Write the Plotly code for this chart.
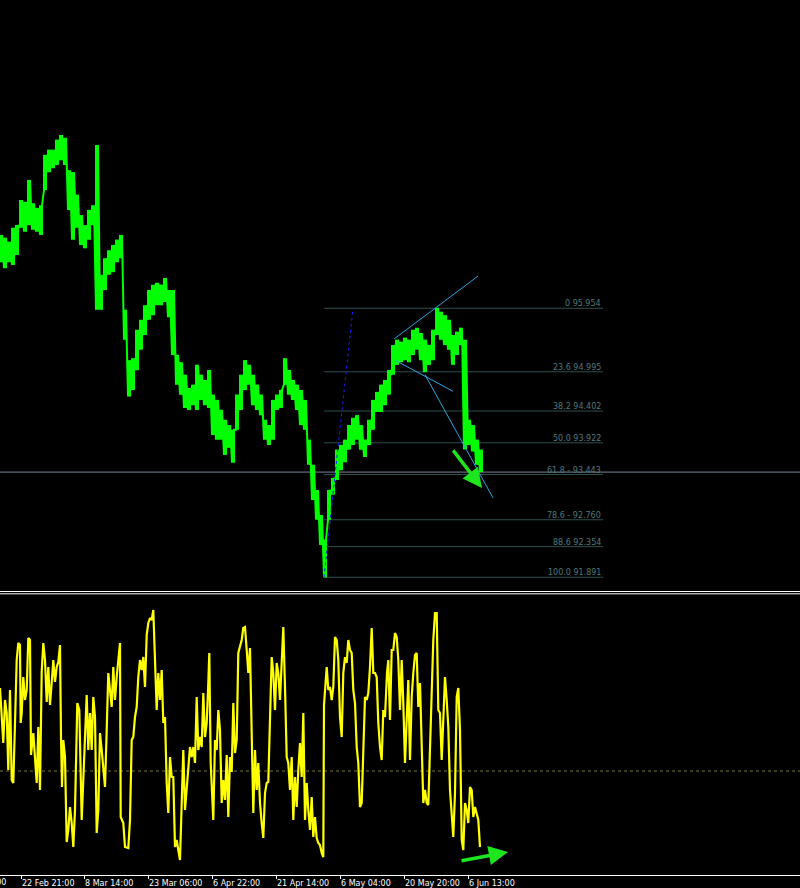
import plotly.graph_objects as go

# ---------------- data ----------------
bar_x = list(range(0, 481, 4))  # bar index (one step = one pixel column in the original)

price_high = [
    97.06, 97.02, 96.96, 97.17, 97.21, 97.59, 97.56, 97.89, 97.54, 97.47,
    97.51, 98.27, 98.35, 98.35, 98.50, 98.57, 98.53, 98.04, 98.01, 97.67,
    97.36, 97.21, 97.44, 97.51, 98.42, 96.46, 96.71, 96.83, 96.91, 96.99,
    97.06, 95.93, 95.17, 95.20, 95.63, 95.78, 96.00, 96.23, 96.31, 96.34,
    96.31, 96.41, 96.23, 96.23, 95.25, 95.14, 94.95, 94.75, 94.80, 95.10,
    94.95, 94.87, 95.02, 94.65, 94.57, 94.42, 94.27, 94.19, 94.12, 94.65,
    94.95, 95.17, 95.10, 94.95, 94.80, 94.65, 94.27, 94.19, 94.57, 94.65,
    94.72, 95.20, 95.02, 94.87, 94.80, 94.72, 94.57, 93.97, 93.59, 93.21,
    92.83, 92.46, 93.21, 93.39, 93.82, 93.89, 93.97, 94.19, 94.30, 94.34,
    94.19, 93.97, 94.27, 94.57, 94.69, 94.80, 94.87, 95.02, 95.40, 95.48,
    95.45, 95.51, 95.48, 95.63, 95.66, 95.58, 95.48, 95.40, 95.63, 95.96,
    95.90, 95.85, 95.78, 95.55, 95.60, 95.66, 95.48, 94.27, 94.19, 93.97,
    93.82,
]
price_low = [
    96.65, 96.56, 96.65, 96.61, 96.76, 97.17, 97.11, 97.21, 97.14, 97.11,
    97.06, 97.74, 98.01, 98.07, 98.12, 98.19, 98.12, 97.44, 96.99, 97.17,
    96.91, 96.86, 96.99, 97.21, 95.93, 95.93, 96.23, 96.46, 96.50, 96.65,
    96.71, 95.48, 94.62, 94.72, 95.02, 95.33, 95.55, 95.78, 95.85, 96.00,
    96.00, 96.05, 95.82, 95.25, 94.80, 94.65, 94.45, 94.42, 94.49, 94.42,
    94.57, 94.49, 94.45, 94.04, 93.97, 93.97, 93.74, 93.85, 93.62, 94.12,
    94.42, 94.72, 94.80, 94.49, 94.42, 94.34, 93.97, 93.89, 93.97, 94.42,
    94.45, 94.80, 94.65, 94.57, 94.42, 94.19, 94.12, 93.59, 93.06, 92.76,
    92.38, 91.89, 92.76, 93.14, 93.36, 93.51, 93.63, 93.82, 93.89, 93.97,
    93.82, 93.71, 93.89, 94.12, 94.39, 94.39, 94.49, 94.65, 94.95, 95.10,
    95.14, 95.17, 95.14, 95.25, 95.33, 95.17, 94.99, 95.10, 95.17, 95.55,
    95.48, 95.40, 95.33, 95.10, 95.25, 95.40, 93.82, 93.89, 93.79, 93.59,
    93.48,
]

osc_x = [
    0, 1.7, 3.3, 5, 6.7, 8.3, 10, 11.7, 13.3, 15, 16.7, 18.3, 20, 20.7, 21.7, 23.3,
    25, 26.7, 28.3, 30, 31, 33.3, 35, 36.7, 38.3, 40, 41.7, 43.3, 45, 46.7, 48.3, 50,
    51.7, 53.3, 55, 56.7, 58.3, 60, 61, 62, 63.3, 65, 66.7, 68.3, 70, 71.7, 73.3, 75,
    77.3, 79.3, 81.7, 83.3, 85, 86.7, 88.3, 90, 91.7, 93.3, 95, 96.7, 98.3, 100,
    101.7, 103.3, 105, 106.7, 108.3, 110, 111.7, 113.3, 115, 116.7, 118.3, 120, 120.7,
    123.3, 125, 128.3, 130, 131.7, 133.3, 135, 136.7, 138.3, 140, 141.7, 143.3, 145,
    146.7, 148.3, 150, 151.7, 153.3, 155, 156.7, 158.3, 160, 161.7, 163.3, 165, 166.7,
    168.3, 170, 171.7, 173.3, 175, 176.7, 178.3, 180, 181.7, 183.3, 185, 186.7, 188.3,
    190, 191.7, 193.3, 195, 196.7, 198.3, 200, 201.7, 203.3, 205, 206.7, 208.3, 209.3,
    210.7, 211.7, 213.3, 215, 216.7, 218.3, 220, 221.7, 223.3, 225, 226.7, 228.3, 230,
    231.7, 233.3, 235, 236.7, 238.3, 240, 241.7, 243.3, 245, 246.7, 248.3, 250, 251.7,
    253.3, 255, 256.7, 258.3, 260, 261.7, 263.3, 265, 266.7, 268.3, 270, 271.7, 273.3,
    275, 276.7, 278.3, 280, 281.7, 283.3, 285, 286.7, 288.3, 290, 291.7, 293.3, 295,
    296.7, 298.3, 300, 301.7, 303.3, 305, 306.7, 308.3, 310, 311.7, 313.3, 315, 316.7,
    318.3, 320, 321.7, 323.3, 324, 325, 326.7, 328.3, 330, 331.7, 333.3, 335, 336.7,
    338.3, 340, 341.7, 343.3, 345, 346.7, 348.3, 350, 351.7, 353.3, 355, 356.7, 358.3,
    360, 361.7, 363.3, 365, 366.7, 368.3, 370, 371.7, 373.3, 375, 376.7, 378.3, 380,
    381.7, 383.3, 385, 387, 388.3, 390, 391.7, 393.3, 395, 396.7, 398.3, 400, 401.7,
    403.3, 405, 406.7, 408.3, 410, 411.7, 413.3, 415, 416.7, 418.3, 420, 421.7, 423.3,
    425, 426.7, 428.3, 430, 431.7, 433.3, 435, 436.7, 438.3, 440, 441.7, 443.3, 445,
    446.7, 448.3, 450, 451.7, 453.3, 455, 456.7, 458.3, 460, 461.7, 463.3, 465, 466.7,
    468.3, 470, 471.7, 473.3, 475, 476.7, 478.3, 480,
]
osc_v = [
    83, 48, 28, 71, 58, 1, 81, -9, -12, 48, 111, 128, 126, 48, 58, 94,
    71, 81, 133, 131, 16, 38, 14, -12, 44, -19, 99, 128, 111, 69, 104, 66,
    88, 111, 89, 104, 109, 126, 34, -16, 31, 14, -71, -59, -36, -52, -76, -39,
    68, 61, -49, -6, 38, 76, 21, 58, 21, 74, 54, -62, -39, 38,
    21, -2, -16, 41, 98, 81, 64, 104, 71, 94, 114, 128, -46,
    -52, -76, -77, -49, 31, 34, 54, 64, 94, 111, 101, 114, 84,
    136, 148, 153, 151, 161, 109, 61, 98, 71, 101, 48, 54, -12,
    -42, 14, -6, -6, -76, -69, -79, -89, -32, 21, -39, -19, 4,
    24, 14, 24, 8, 74, 21, 34, 24, 78, 34, 48, 88, 118,
    8, -12, -49, 31, 21, 61, 41, -32, -9, -29, 16, -46, 14,
    -1, 68, 18, 31, 118, 126, 131, 143, 144, 121, 98, 123, 48,
    -42, 21, -19, 8, -32, -52, -67, -22, -12, -11, 61, 114, 98,
    61, 108, 98, 71, 118, 144, 84, 14, 8, -19, 14, -49, -6,
    -36, 1, 28, -6, 58, -49, -12, -39, -59, -26, -66, -46, -67,
    -72, -74, -82, -86, 66, 78, 104, 81, 84, 71, 84, 134, 131,
    111, 54, 34, 98, 114, 108, 131, 121, 118, 81, 68, 24, 8,
    -36, -32, 14, 74, 71, 78, 104, 143, 98, 98, 94, 48, 24,
    11, 61, 54, 98, 111, 51, 121, 121, 138, 134, 111, 61, 111,
    68, 8, 51, 91, 11, 74, 98, 116, 118, 64, 88, 34, -32,
    -19, -32, -34, 18, 61, 131, 158, 158, 61, 58, 11, 61, 94,
    71, 44, -19, -39, -66, -22, 74, 83, 41, -69, -79, -32, -39,
    -52, -16, -19, -46, -36, -42, -49, -76,
]
osc_level = 0

tick_x = [21, 84, 148, 212, 276, 340, 404, 468]
tick_text = ["22 Feb 21:00", "8 Mar 14:00", "23 Mar 06:00", "6 Apr 22:00",
             "21 Apr 14:00", "6 May 04:00", "20 May 20:00", "6 Jun 13:00"]
cut_tick_x = -43
cut_tick_text = "8 Feb 05:00"

fib_ratio = ["0", "23.6", "38.2", "50.0", "61.8 -", "78.6 -", "88.6", "100.0"]
fib_price = [95.954, 94.995, 94.402, 93.922, 93.443, 92.760, 92.354, 91.891]
fib_x_start, fib_x_end = 324, 603
fib_anchor_x = [324, 353]
fib_anchor_y = [91.891, 95.954]

bid_price = 93.48

trend_x0 = [394, 395, 425]
trend_y0 = [95.49, 95.17, 94.95]
trend_x1 = [478, 453, 493]
trend_y1 = [96.44, 94.70, 93.09]

arrow_price_tail = (452, 93.83)
arrow_price_head = (482, 93.24)
arrow_osc_tail = (460, -90)
arrow_osc_head = (508, -81)

# ---------------- figure ----------------
W, H = 800, 888
main_top_px, main_bot_px = 0, 590
osc_top_px, osc_bot_px = 595, 875

# each bar drawn as two vertical high-low strokes joined into one path
zx, zy = [], []
for x, hi, lo in zip(bar_x, price_high, price_low):
    zx += [x, x, x + 2, x + 2]
    zy += [lo, hi, lo, hi]

fig = go.Figure()
fig.add_trace(go.Scatter(x=zx, y=zy, mode="lines", line=dict(color="#00ff00", width=2),
                         xaxis="x", yaxis="y", hoverinfo="skip", showlegend=False))
fig.add_trace(go.Scatter(x=osc_x, y=osc_v, mode="lines", line=dict(color="#ffff00", width=2.2),
                         xaxis="x", yaxis="y2", hoverinfo="skip", showlegend=False))

shapes = []
for p in fib_price:
    shapes.append(dict(type="line", xref="x", yref="y", x0=fib_x_start, x1=fib_x_end, y0=p, y1=p,
                       line=dict(color="#2f4f4f", width=1), layer="below"))
shapes.append(dict(type="line", xref="paper", yref="y", x0=0, x1=1, y0=bid_price, y1=bid_price,
                   line=dict(color="#778899", width=1), layer="below"))
shapes.append(dict(type="line", xref="x", yref="y", x0=fib_anchor_x[0], x1=fib_anchor_x[1],
                   y0=fib_anchor_y[0], y1=fib_anchor_y[1],
                   line=dict(color="#1a1aff", width=1, dash="dot")))
for a, b, c, d in zip(trend_x0, trend_y0, trend_x1, trend_y1):
    shapes.append(dict(type="line", xref="x", yref="y", x0=a, y0=b, x1=c, y1=d,
                       line=dict(color="#2aa6e6", width=1)))
shapes.append(dict(type="line", xref="paper", yref="y2", x0=0, x1=1, y0=osc_level, y1=osc_level,
                   line=dict(color="#7a7a2a", width=1, dash="3px,3px"), layer="below"))
for py in (591.5, 593.8):
    shapes.append(dict(type="line", xref="paper", yref="paper", x0=0, x1=1,
                       y0=1 - py / H, y1=1 - py / H, line=dict(color="#ffffff", width=1)))

annotations = []
for r, p in zip(fib_ratio, fib_price):
    annotations.append(dict(xref="x", yref="y", x=fib_x_end, y=p, xanchor="right", yanchor="bottom",
                            text=f"{r} {p:.3f}", showarrow=False, yshift=-2,
                            font=dict(family="DejaVu Sans", size=8, color="#527a7a")))
annotations.append(dict(xref="x", yref="y", x=arrow_price_head[0], y=arrow_price_head[1],
                        axref="x", ayref="y", ax=arrow_price_tail[0], ay=arrow_price_tail[1],
                        text="", showarrow=True, arrowhead=2, arrowsize=1.1, arrowwidth=3.5,
                        arrowcolor="#1ee61e", standoff=0))
annotations.append(dict(xref="x", yref="y2", x=arrow_osc_head[0], y=arrow_osc_head[1],
                        axref="x", ayref="y2", ax=arrow_osc_tail[0], ay=arrow_osc_tail[1],
                        text="", showarrow=True, arrowhead=2, arrowsize=1.1, arrowwidth=3.5,
                        arrowcolor="#1ee61e", standoff=0))
annotations.append(dict(xref="paper", yref="paper", x=cut_tick_x / W, y=0, xanchor="left",
                        yanchor="bottom", text=cut_tick_text, showarrow=False, yshift=-1,
                        font=dict(family="DejaVu Sans", size=8, color="#ffffff")))

fig.update_layout(
    width=W, height=H,
    margin=dict(l=0, r=0, t=0, b=0),
    paper_bgcolor="#000000", plot_bgcolor="#000000",
    showlegend=False,
    xaxis=dict(range=[0, W], anchor="y2", showgrid=False, zeroline=False,
               showline=True, linecolor="#ffffff", linewidth=1,
               ticks="outside", ticklen=3, tickcolor="#ffffff", tickwidth=1,
               tickvals=tick_x, ticktext=tick_text, ticklabelposition="outside right",
               tickfont=dict(family="DejaVu Sans", size=8, color="#ffffff")),
    yaxis=dict(domain=[1 - main_bot_px / H, 1 - main_top_px / H], range=[91.699, 100.61],
               visible=False, showgrid=False, zeroline=False),
    yaxis2=dict(domain=[1 - osc_bot_px / H, 1 - osc_top_px / H], range=[-104, 176],
                visible=False, showgrid=False, zeroline=False),
    shapes=shapes, annotations=annotations,
)

fig.write_html("out.html", config={"displayModeBar": False},
               post_script="document.body.style.margin='0px';document.body.style.background='#000';"
                           "document.body.style.overflow='hidden';")
